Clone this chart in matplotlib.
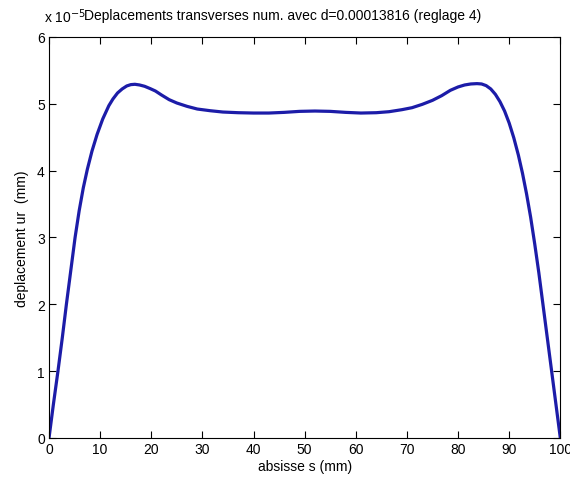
import numpy as np
import matplotlib
matplotlib.use("Agg")
import matplotlib.pyplot as plt

# abscisse s (mm) et deplacement ur (unites de 1e-5 mm)
s = [0, 0.85, 1.75, 2.6, 3.4, 4.25, 5.1, 5.9, 6.7, 7.5, 8.4, 9.4, 10.5,
     11.7, 12.5, 13.4, 14.3, 15.2, 16.0, 16.8, 17.7, 18.7, 19.8, 20.8, 22,
     23.5, 25, 27, 29, 31.5, 34, 37, 40, 43, 46, 49, 52, 55, 58, 61, 64,
     66.5, 69, 71, 73, 75, 76.8, 78.5, 80, 81.3, 82.5, 83.7, 84.6, 85.5,
     86.4, 87.3, 88.2, 89.1, 90.0, 90.9, 91.8, 92.6, 93.4, 94.2, 95.0,
     95.8, 96.6, 97.45, 98.3, 99.15, 100]
ur = [0, 0.5, 1.0, 1.5, 2.0, 2.5, 3.0, 3.40, 3.74, 4.02, 4.29, 4.54, 4.77,
      4.97, 5.07, 5.16, 5.22, 5.265, 5.285, 5.29, 5.28, 5.26, 5.225, 5.19,
      5.13, 5.06, 5.01, 4.96, 4.92, 4.895, 4.875, 4.865, 4.86, 4.86, 4.87,
      4.885, 4.89, 4.885, 4.87, 4.86, 4.865, 4.88, 4.91, 4.94, 4.99, 5.05,
      5.12, 5.2, 5.25, 5.28, 5.295, 5.30, 5.295, 5.27, 5.22, 5.14, 5.03,
      4.89, 4.71, 4.49, 4.23, 3.96, 3.65, 3.3, 2.9, 2.47, 2.0, 1.5, 1.0,
      0.5, 0]

x_ticks = list(range(0, 101, 10))
y_ticks = [0, 1, 2, 3, 4, 5, 6]

plt.rcParams['font.family'] = ['Liberation Sans', 'DejaVu Sans']
plt.rcParams['font.size'] = 10

fig = plt.figure(figsize=(5.7, 4.85), dpi=100)
ax = fig.add_axes([0.086, 0.095, 0.897, 0.827])

ax.plot(s, ur, color='#1c1ca8', linewidth=2.3,
        solid_joinstyle='round', solid_capstyle='round')

ax.set_xlim(0, 100)
ax.set_ylim(0, 6)
ax.set_xticks(x_ticks)
ax.set_yticks(y_ticks)
ax.tick_params(direction='in', length=5, width=0.8, top=True, right=True,
               labelsize=10, pad=3)
for sp in ax.spines.values():
    sp.set_linewidth(0.8)

ax.set_xlabel('absisse s (mm)', fontsize=10, labelpad=2)
ax.set_ylabel('deplacement ur  (mm)', fontsize=10, labelpad=6)

# facteur d'echelle facon MATLAB + titre
fig.text(0.077, 0.952, r'x 10$^{-5}$', fontsize=10, ha='left', va='baseline')
fig.text(0.147, 0.958, 'Deplacements transverses num. avec d=0.00013816 (reglage 4)',
         fontsize=10, ha='left', va='baseline')

fig.savefig('out.png', dpi=100)
